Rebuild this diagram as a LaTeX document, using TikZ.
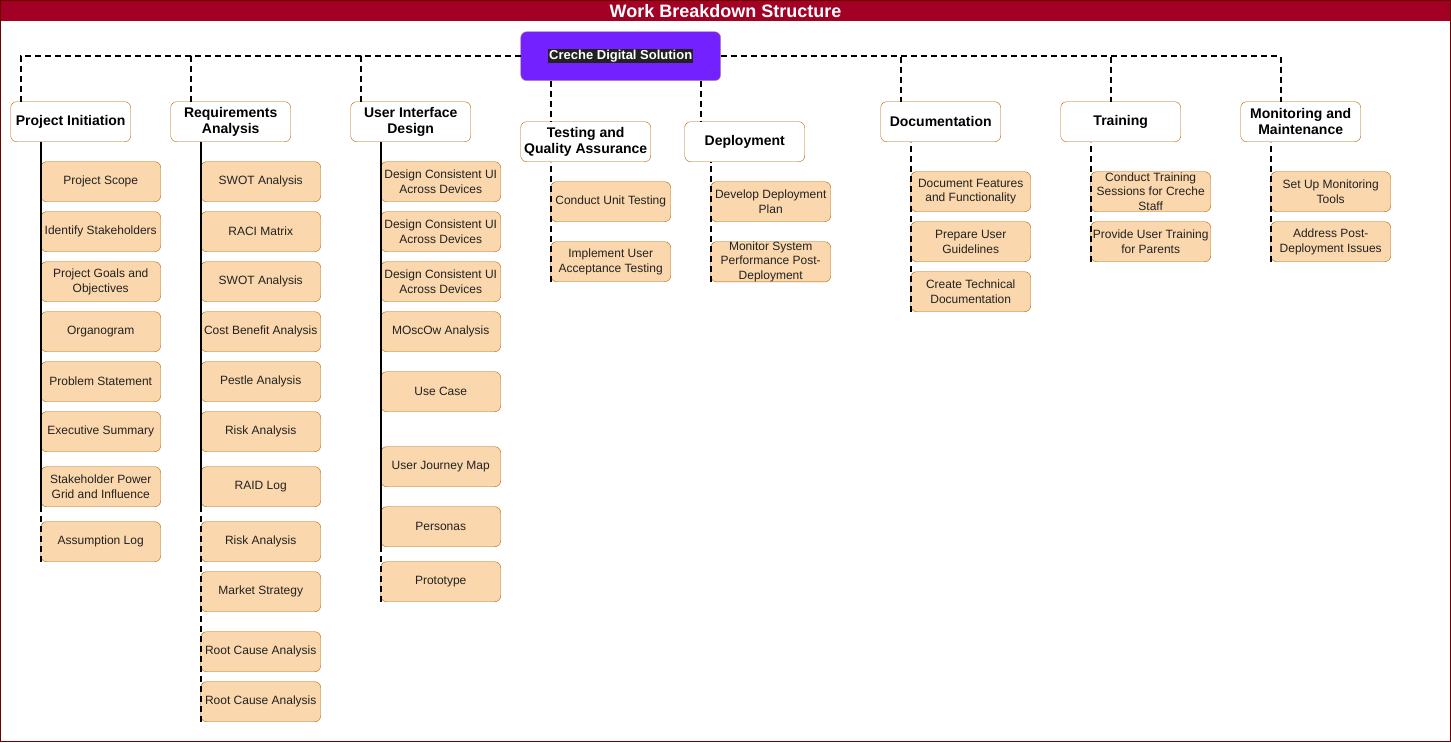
\documentclass[tikz,border=0pt]{standalone}
\usepackage{fontspec}
\setmainfont{Liberation Sans}
\usetikzlibrary{positioning,calc}
\definecolor{Crimson}{HTML}{A20025}
\definecolor{Frame}{HTML}{6F0000}
\definecolor{Violet}{HTML}{7421FF}
\definecolor{RootRim}{HTML}{C99A5B}
\definecolor{Rim}{HTML}{B46504}
\definecolor{Peach}{HTML}{FAD7AC}
\definecolor{Ink}{HTML}{222222}

\tikzset{
  phase/.style={draw=Rim,fill=white,rounded corners=6pt,minimum width=120pt,minimum height=40pt,inner sep=0pt,align=center,font=\fontsize{14}{16.5}\selectfont\bfseries,anchor=north west},
  task/.style={draw=Rim,fill=Peach,rounded corners=6pt,minimum width=120pt,minimum height=40pt,inner sep=0pt,align=center,font=\fontsize{12}{14.5}\selectfont,text=Ink,anchor=north west},
  link/.style={draw=black,line width=2pt,dash pattern=on 6pt off 4pt}
}

\begin{document}
\begin{tikzpicture}[x=1pt,y=-1pt]
\useasboundingbox (0,0) rectangle (1451,742);
% frame and title bar
\fill[white] (0,0) rectangle (1451,742);
\fill[Crimson] (0,0) rectangle (1451,21);
\draw[Frame,line width=1pt] (0.5,0.5) rectangle (1450.5,741.5);
\node[font=\fontsize{18}{20}\selectfont\bfseries,text=white] (title) at (725.5,11) {Work Breakdown Structure};

% root
\node[draw=RootRim,fill=Violet,rounded corners=6pt,minimum width=200pt,minimum height=49pt,anchor=north west,
      font=\fontsize{13}{15}\selectfont\bfseries,text=white] (root) at (520.5,31.5)
      {\setlength{\fboxsep}{1pt}\colorbox{Ink}{Creche Digital Solution}};

% phases
\node[phase] (pi) at (10.5,101.5) {Project Initiation};
\node[phase] (ra) at (170.5,101.5) {Requirements\\Analysis};
\node[phase] (ui) at (350.5,101.5) {User Interface\\Design};
\node[phase,minimum width=130pt] (tqa) at (520.5,121.5) {Testing and\\Quality Assurance};
\node[phase] (dep) at (684.5,121.5) {Deployment};
\node[phase] (doc) at (880.5,101.5) {Documentation};
\node[phase] (trn) at (1060.5,101.5) {Training};
\node[phase] (mon) at (1240.5,101.5) {Monitoring and\\Maintenance};

\draw[link] (root.west) -| ([xshift=10pt]pi.north west);
\draw[link] (root.west) -| ([xshift=20pt]ra.north west);
\draw[link] (root.west) -| ([xshift=10pt]ui.north west);
\draw[link] (root.east) -| ([xshift=20pt]doc.north west);
\draw[link] (root.east) -| ([xshift=50pt]trn.north west);
\draw[link] (root.east) -| ([xshift=40pt]mon.north west);
\draw[link] ([xshift=30pt]root.south west) -- ([xshift=30pt]root.south west |- tqa.north);
\draw[link] ([xshift=180pt]root.south west) -- ([xshift=180pt]root.south west |- dep.north);

% tasks
\foreach \k/\t/\txt in {1/161/Project Scope, 2/211/Identify Stakeholders, 3/261/{Project Goals and\\Objectives},
  4/311/Organogram, 5/361/Problem Statement, 6/411/Executive Summary,
  7/466/{Stakeholder Power\\Grid and Influence}, 8/521/Assumption Log}
  {\node[task] (pi\k) at (40.5,\t.5) {\txt};}

\foreach \k/\t/\txt in {1/161/SWOT Analysis, 2/211/RACI Matrix, 3/261/SWOT Analysis, 4/311/Cost Benefit Analysis,
  5/361/Pestle Analysis, 6/411/Risk Analysis, 7/466/RAID Log, 8/521/Risk Analysis,
  9/571/Market Strategy, 10/631/Root Cause Analysis, 11/681/Root Cause Analysis}
  {\node[task] (ra\k) at (200.5,\t.5) {\txt};}

\foreach \k/\t/\txt in {1/161/{Design Consistent UI\\Across Devices}, 2/211/{Design Consistent UI\\Across Devices},
  3/261/{Design Consistent UI\\Across Devices}, 4/311/MOscOw Analysis, 5/371/Use Case,
  6/446/User Journey Map, 7/506/Personas, 8/561/Prototype}
  {\node[task] (ui\k) at (380.5,\t.5) {\txt};}

\foreach \k/\t/\txt in {1/181/Conduct Unit Testing, 2/241/{Implement User\\Acceptance Testing}}
  {\node[task] (tqa\k) at (550.5,\t.5) {\txt};}

\foreach \k/\t/\txt in {1/181/{Develop Deployment\\Plan}, 2/241/{Monitor System\\Performance Post-\\Deployment}}
  {\node[task] (dep\k) at (710.5,\t.5) {\txt};}

\foreach \k/\t/\txt in {1/171/{Document Features\\and Functionality}, 2/221/{Prepare User\\Guidelines},
  3/271/{Create Technical\\Documentation}}
  {\node[task] (doc\k) at (910.5,\t.5) {\txt};}

\foreach \k/\t/\txt in {1/171/{Conduct Training\\Sessions for Creche\\Staff}, 2/221/{Provide User Training\\for Parents}}
  {\node[task] (trn\k) at (1090.5,\t.5) {\txt};}

\foreach \k/\t/\txt in {1/171/{Set Up Monitoring\\Tools}, 2/221/{Address Post-\\Deployment Issues}}
  {\node[task] (mon\k) at (1270.5,\t.5) {\txt};}

% task links
\foreach \p/\n in {pi/8, ra/11, ui/8, tqa/2, dep/2, doc/3, trn/2, mon/2}
  {\foreach \k in {1,...,\n}
    {\draw[link] (\p\k.south west) -- (\p\k.south west |- \p.south);}}
\end{tikzpicture}
\end{document}
